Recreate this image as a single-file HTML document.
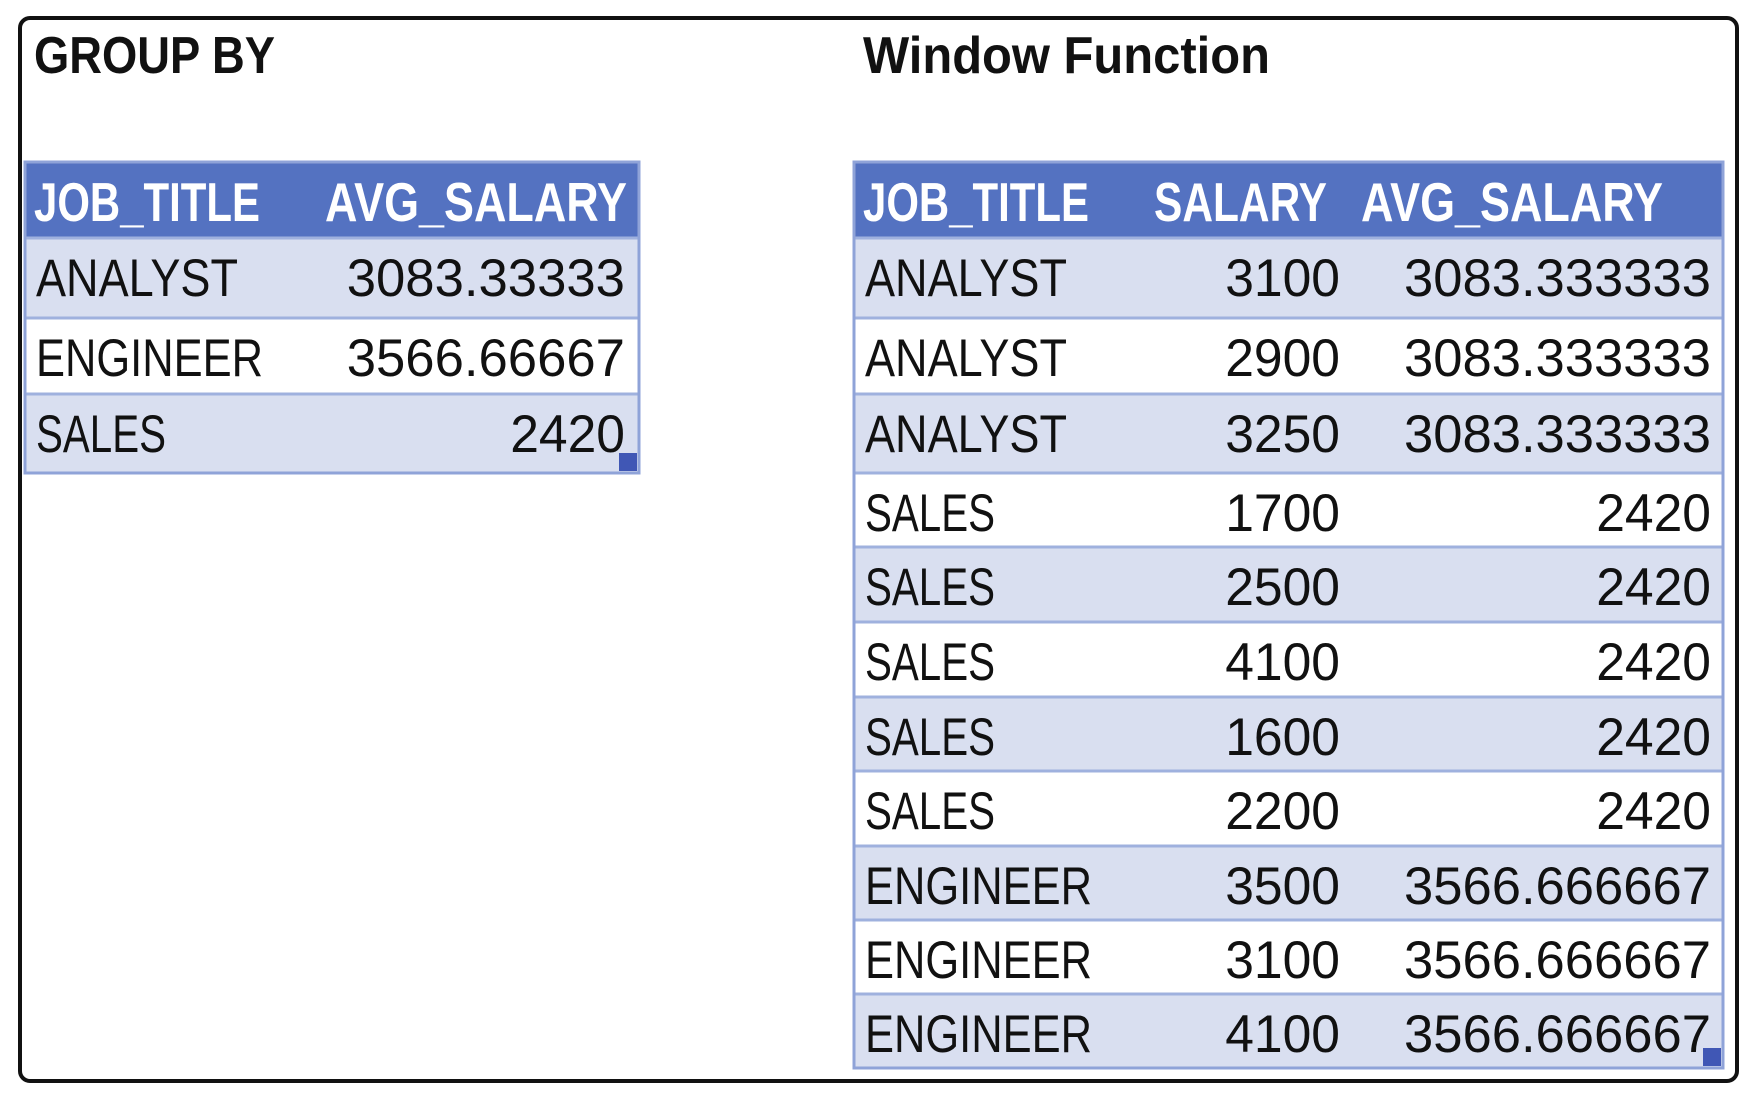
<!DOCTYPE html>
<html><head><meta charset="utf-8"><style>
html,body{margin:0;padding:0;background:#fff;}
svg{display:block;}
</style></head><body>
<svg id="s" width="1757" height="1111" viewBox="0 0 1757 1111" xmlns="http://www.w3.org/2000/svg">
<rect x="20" y="18" width="1717" height="1063" rx="10" fill="#fff" stroke="#111" stroke-width="4"/>
<text x="34" y="73" font-family="Liberation Sans, sans-serif" font-weight="bold" font-size="52" textLength="241" lengthAdjust="spacingAndGlyphs" fill="#111">GROUP BY</text>
<text x="863" y="73" font-family="Liberation Sans, sans-serif" font-weight="bold" font-size="52" textLength="407" lengthAdjust="spacingAndGlyphs" fill="#111">Window Function</text>
<g id="g"></g>
</svg>
<script>
const leftHeaders = ["JOB_TITLE", "AVG_SALARY"];
const leftTitles = ["ANALYST", "ENGINEER", "SALES"];
const leftAvg = ["3083.33333", "3566.66667", "2420"];
const rightHeaders = ["JOB_TITLE", "SALARY", "AVG_SALARY"];
const rightTitles = ["ANALYST","ANALYST","ANALYST","SALES","SALES","SALES","SALES","SALES","ENGINEER","ENGINEER","ENGINEER"];
const rightSalary = ["3100","2900","3250","1700","2500","4100","1600","2200","3500","3100","4100"];
const rightAvg = ["3083.333333","3083.333333","3083.333333","2420","2420","2420","2420","2420","3566.666667","3566.666667","3566.666667"];

const NS = "http://www.w3.org/2000/svg";
const g = document.getElementById('g');
const nameW = {ANALYST:202, ENGINEER:227, SALES:130};
const hdrW = {JOB_TITLE:226, AVG_SALARY:302, SALARY:173};
function numW(s){let d=0,p=0;for(const c of s){if(c==='.')p++;else d++;}return d*28.7+p*20;}
function el(tag, attrs){const e=document.createElementNS(NS,tag);for(const k in attrs)e.setAttribute(k,attrs[k]);g.appendChild(e);return e;}
function txt(x,y,s,w,bold,fill,anchor){
  const t=el('text',{x:x,y:y,'font-family':'Liberation Sans, sans-serif','font-size':bold?55:53,'font-weight':bold?'bold':'normal',fill:fill,textLength:w,lengthAdjust:'spacingAndGlyphs','text-anchor':anchor||'start'});
  t.textContent=s;return t;
}
function table(prefix,x0,x1,rowsY,headers,headerX,cols){
  const top=rowsY[0], bot=rowsY[rowsY.length-1];
  const hr=el('rect',{x:x0,y:top,width:x1-x0,height:rowsY[1]-top,fill:'#5472c1'});
  
  
  headers.forEach((h,i)=>{
    const t=txt(headerX[i],top+59,h,hdrW[h],true,'#fff');
    
    
  });
  const n=cols[0].values.length;
  for(let r=0;r<n;r++){
    const y=rowsY[r+1], h=rowsY[r+2]-y;
    const rr=el('rect',{x:x0,y:y,width:x1-x0,height:h,fill:(r%2===0)?'#d9dff0':'#ffffff'});
    
    
    el('line',{x1:x0,x2:x1,y1:y,y2:y,stroke:'#9fb1de','stroke-width':3});
    cols.forEach(c=>{
      const v=c.values[r];
      const w=c.type==='name'?nameW[v]:numW(v);
      const t=txt(c.x,y+58,v,w,false,'#111',c.type==='name'?'start':'end');
      
      
    });
  }
  const b=el('rect',{x:x0,y:top,width:x1-x0,height:bot-top,fill:'none',stroke:'#8fa3d8','stroke-width':3});
  
  
  const hd=el('rect',{x:x1-20,y:bot-20,width:18,height:18,fill:'#4057b5'});
  
  
}
const leftY=[162,238];
for(let i=0;i<leftTitles.length;i++)leftY.push(leftY[leftY.length-1]+(i===0?80:i===1?76:79));
table('group-by-table',25,639,leftY,leftHeaders,[34,325],[
  {key:'job-title',type:'name',x:36,values:leftTitles},
  {key:'avg-salary',type:'num',x:625,values:leftAvg}
]);
const rightY=[162,238,318,394,473,547,622,697,771,846,920,994,1068];
table('window-table',854,1723,rightY.slice(0,rightTitles.length+2),rightHeaders,[863,1154,1361],[
  {key:'job-title',type:'name',x:865,values:rightTitles},
  {key:'salary',type:'num',x:1340,values:rightSalary},
  {key:'avg-salary',type:'num',x:1711,values:rightAvg}
]);
</script>
</body></html>
